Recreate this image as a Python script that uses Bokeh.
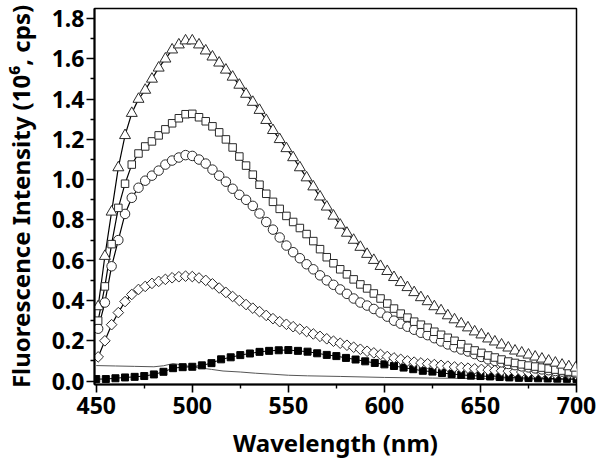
import math
from bokeh.plotting import figure
from bokeh.models import FixedTicker, Range1d, PrintfTickFormatter
from bokeh.embed import file_html
from bokeh.resources import INLINE

# ---- data ----
wl_open = [451, 454.5, 458, 461.5, 465, 468.5, 472, 475.5, 479, 482.5, 486, 489.5, 493, 496.5,
           500, 503.5, 507, 510.5, 514, 517.5, 521, 524.5, 528, 531.5, 535, 538.5, 542, 545.5,
           549, 552.5, 556, 559.5, 563, 566.5, 570, 573.5, 577, 580.5, 584, 587.5, 591, 594.5,
           598, 601.5, 605, 608.5, 612, 615.5, 619, 622.5, 626, 629.5, 633, 636.5, 640, 643.5,
           647, 650.5, 654, 657.5, 661, 664.5, 668, 671.5, 675, 678.5, 682, 685.5, 689, 692.5,
           696, 699.5]

tri = [0.37, 0.62, 0.84, 1.06, 1.22, 1.33, 1.40, 1.445, 1.50, 1.555, 1.60, 1.645, 1.67, 1.69,
       1.69, 1.67, 1.64, 1.61, 1.58, 1.545, 1.51, 1.47, 1.425, 1.385, 1.345, 1.295, 1.245, 1.20,
       1.155, 1.11, 1.06, 1.01, 0.965, 0.915, 0.865, 0.82, 0.775, 0.735, 0.70, 0.665, 0.63, 0.60,
       0.57, 0.545, 0.515, 0.49, 0.465, 0.44, 0.415, 0.395, 0.37, 0.35, 0.325, 0.305, 0.285, 0.265,
       0.245, 0.23, 0.21, 0.195, 0.18, 0.165, 0.15, 0.14, 0.13, 0.12, 0.11, 0.10, 0.09, 0.08,
       0.072, 0.065]

sq = [0.30, 0.47, 0.68, 0.86, 0.98, 1.075, 1.13, 1.165, 1.19, 1.22, 1.25, 1.28, 1.305, 1.325,
      1.327, 1.31, 1.29, 1.265, 1.235, 1.20, 1.16, 1.115, 1.07, 1.025, 0.975, 0.93, 0.89, 0.855,
      0.82, 0.79, 0.76, 0.73, 0.695, 0.655, 0.615, 0.585, 0.555, 0.53, 0.505, 0.48, 0.46, 0.435,
      0.41, 0.385, 0.36, 0.335, 0.315, 0.295, 0.28, 0.265, 0.245, 0.23, 0.215, 0.20, 0.183, 0.165,
      0.152, 0.14, 0.127, 0.117, 0.107, 0.097, 0.09, 0.083, 0.077, 0.072, 0.067, 0.062, 0.057, 0.052,
      0.047, 0.043]

circ = [0.26, 0.39, 0.57, 0.70, 0.83, 0.91, 0.96, 0.995, 1.02, 1.045, 1.075, 1.095, 1.11, 1.122,
        1.118, 1.10, 1.08, 1.05, 1.02, 0.99, 0.955, 0.925, 0.90, 0.87, 0.832, 0.79, 0.752, 0.713,
        0.673, 0.64, 0.61, 0.58, 0.555, 0.525, 0.50, 0.478, 0.455, 0.433, 0.41, 0.39, 0.375, 0.358,
        0.34, 0.32, 0.30, 0.285, 0.27, 0.255, 0.24, 0.228, 0.213, 0.197, 0.182, 0.168, 0.157, 0.147,
        0.134, 0.12, 0.108, 0.10, 0.093, 0.085, 0.079, 0.073, 0.068, 0.063, 0.058, 0.054, 0.05, 0.047,
        0.044, 0.041]

dia = [0.12, 0.20, 0.28, 0.34, 0.395, 0.43, 0.455, 0.47, 0.485, 0.495, 0.505, 0.513, 0.518, 0.521,
       0.519, 0.512, 0.50, 0.483, 0.462, 0.44, 0.42, 0.40, 0.38, 0.362, 0.345, 0.326, 0.31, 0.295,
       0.282, 0.27, 0.258, 0.246, 0.234, 0.222, 0.21, 0.198, 0.188, 0.178, 0.168, 0.158, 0.148, 0.14,
       0.132, 0.122, 0.115, 0.108, 0.10, 0.094, 0.09, 0.086, 0.082, 0.078, 0.074, 0.07, 0.067, 0.064,
       0.061, 0.058, 0.055, 0.053, 0.051, 0.049, 0.047, 0.045, 0.043, 0.041, 0.040, 0.039, 0.037, 0.036,
       0.035, 0.034]

wl_fill = [450, 455, 460, 465, 470, 475, 480, 485, 490, 495, 500, 505, 510, 515, 520, 525, 530,
           535, 540, 545, 550, 555, 560, 565, 570, 575, 580, 585, 590, 595, 600, 605, 610, 615,
           620, 625, 630, 635, 640, 645, 650, 655, 660, 665, 670, 675, 680, 685, 690, 695, 700]
fill_sq = [0.010, 0.010, 0.014, 0.018, 0.021, 0.025, 0.033, 0.046, 0.064, 0.069, 0.071, 0.078,
           0.089, 0.108, 0.118, 0.129, 0.137, 0.145, 0.150, 0.153, 0.154, 0.150, 0.146, 0.138,
           0.130, 0.124, 0.115, 0.107, 0.098, 0.090, 0.083, 0.075, 0.067, 0.059, 0.051, 0.047,
           0.040, 0.035, 0.031, 0.027, 0.025, 0.023, 0.020, 0.018, 0.016, 0.015, 0.014, 0.013,
           0.012, 0.011, 0.010]

wl_bg = [450, 460, 470, 480, 485, 490, 495, 500, 505, 510, 516, 525, 533, 540, 550, 560, 577,
         600, 625, 650, 675, 700]
bg = [0.077, 0.075, 0.073, 0.071, 0.076, 0.087, 0.080, 0.070, 0.064, 0.058, 0.050, 0.045, 0.039,
      0.035, 0.029, 0.026, 0.023, 0.018, 0.015, 0.012, 0.010, 0.008]

x_ticks = [450, 500, 550, 600, 650, 700]
x_minor = [475, 525, 575, 625, 675]
y_ticks = [0.0, 0.2, 0.4, 0.6, 0.8, 1.0, 1.2, 1.4, 1.6, 1.8]
y_minor = [0.1, 0.3, 0.5, 0.7, 0.9, 1.1, 1.3, 1.5, 1.7]

FONT = "Noto Sans"
EDGE = "#2a2a2a"

p = figure(frame_width=482, frame_height=376,
           x_range=Range1d(449.1, 700), y_range=Range1d(-0.017, 1.85),
           output_backend="svg", toolbar_location=None,
           min_border_left=87, min_border_right=23, min_border_top=8, min_border_bottom=68)
p.xgrid.visible = False
p.ygrid.visible = False
p.outline_line_color = "black"
p.outline_line_width = 1.5
p.background_fill_color = "white"
p.border_fill_color = "white"

p.xaxis.ticker = FixedTicker(ticks=x_ticks, minor_ticks=x_minor)
p.yaxis.ticker = FixedTicker(ticks=y_ticks, minor_ticks=y_minor)
p.yaxis.formatter = PrintfTickFormatter(format="%.1f")
for ax in (p.xaxis[0], p.yaxis[0]):
    ax.axis_line_width = 2
    ax.axis_line_color = "black"
    ax.major_tick_in = 0
    ax.major_tick_out = 8
    ax.minor_tick_in = 0
    ax.minor_tick_out = 4
    ax.major_tick_line_width = 1.6
    ax.minor_tick_line_width = 1.4
    ax.major_tick_line_color = "black"
    ax.minor_tick_line_color = "black"
    ax.major_label_text_font = FONT
    ax.major_label_text_font_style = "bold"
    ax.major_label_text_font_size = "23px"
    ax.major_label_text_color = "black"
    ax.axis_label_text_font = FONT
    ax.axis_label_text_font_style = "bold"
    ax.axis_label_text_font_size = "24px"
    ax.axis_label_text_color = "black"
p.xaxis.major_label_standoff = 4
p.yaxis.major_label_standoff = 2
p.xaxis.axis_label = "Wavelength (nm)"
p.xaxis.axis_label_standoff = 9
p.yaxis.axis_label = "Fluorescence Intensity (10\u2076, cps)"
p.yaxis.axis_label_standoff = 12

# thin background trace
p.line(wl_bg, bg, line_color="#555555", line_width=1)

# connecting lines
for ys in (dia, circ, sq, tri):
    p.line(wl_open, ys, line_color="black", line_width=1.2)
p.line(wl_fill, fill_sq, line_color="black", line_width=1)

# markers
p.scatter(wl_fill, fill_sq, marker="square", size=7, fill_color="black", line_color="black")
p.scatter(wl_open, dia, marker="square", angle=math.pi / 4, size=7.5,
          fill_color="white", line_color=EDGE, line_width=1)
p.scatter(wl_open, circ, marker="circle", size=9.5, fill_color="white", line_color=EDGE, line_width=1)
p.scatter(wl_open, sq, marker="square", size=7.5, fill_color="white", line_color=EDGE, line_width=1)
p.scatter(wl_open, tri, marker="triangle", size=11, fill_color="white", line_color=EDGE, line_width=1)

open("out.html", "w").write(file_html(p, INLINE))
